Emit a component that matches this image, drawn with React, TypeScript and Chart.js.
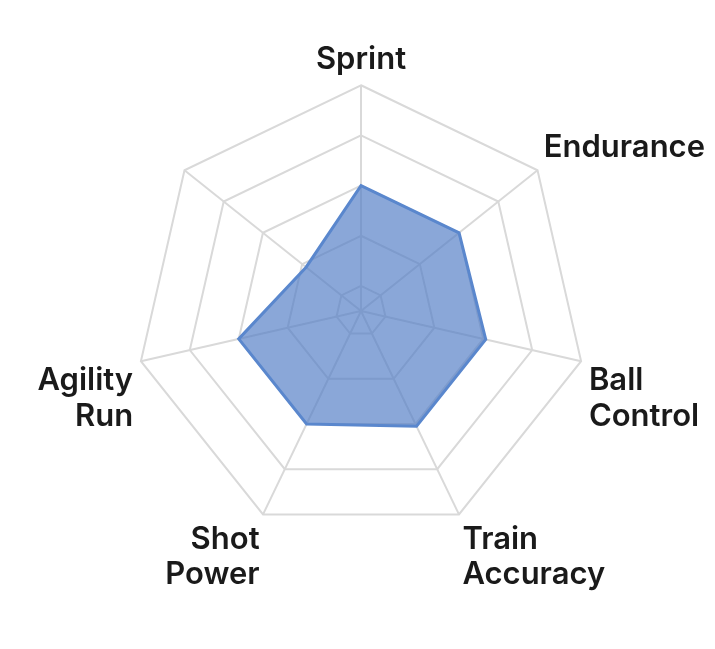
import React, { useEffect, useRef } from "react";
import { Chart, registerables } from "chart.js";

Chart.register(...registerables);

// Axis categories (one spoke in the grid has no label in the reference)
const categories = ["Sprint", "Endurance", "Ball Control", "Train Accuracy", "Shot Power", "Agility Run", ""];
// Series values
const scores = [60, 60, 61, 61, 60, 60, 38];
// Radial scale settings
const scaleMin = 10;
const scaleMax = 100;
const scaleStep = 20;

export default function App() {
  const canvasRef = useRef<HTMLCanvasElement | null>(null);

  useEffect(() => {
    if (!canvasRef.current) return;
    const chart = new Chart(canvasRef.current, {
      type: "radar",
      data: {
        labels: categories,
        datasets: [
          {
            label: "Score",
            data: scores,
            backgroundColor: "rgba(82,126,198,0.68)",
            borderColor: "rgb(90,135,205)",
            borderWidth: 3,
            pointRadius: 0,
            pointHoverRadius: 0,
            fill: true,
          },
        ],
      },
      options: {
        responsive: true,
        maintainAspectRatio: false,
        animation: false,
        layout: { padding: { top: 0, bottom: 18, left: 28, right: 0 } },
        plugins: {
          legend: { display: false },
          tooltip: { enabled: false },
        },
        scales: {
          r: {
            min: scaleMin,
            max: scaleMax,
            ticks: { display: false, stepSize: scaleStep },
            grid: { color: "#d9d9d9", lineWidth: 2 },
            angleLines: { color: "#d9d9d9", lineWidth: 2 },
            pointLabels: {
              color: "#1a1a1a",
              padding: 8,
              font: { family: "Inter", size: 31, weight: "600", lineHeight: 1.15 },
              callback: (label: string) => label.split(" "),
            },
          },
        },
      },
    });
    return () => chart.destroy();
  }, []);

  return (
    <div style={{ position: "fixed", left: 0, top: 0, width: 715, height: 649, background: "#fff" }}>
      <canvas ref={canvasRef} />
    </div>
  );
}
